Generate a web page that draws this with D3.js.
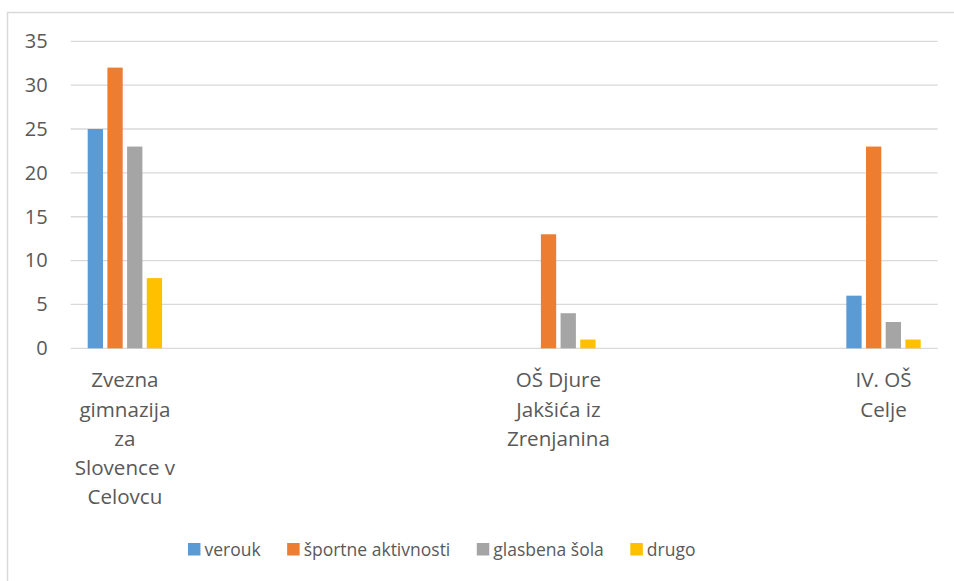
<!DOCTYPE html>
<html>
<head>
<meta charset="utf-8">
<script src="https://cdn.jsdelivr.net/npm/d3@7"></script>
<style>
  body { margin: 0; background: #fff; }
  text { font-family: "Open Sans", sans-serif; fill: #595959; }
</style>
</head>
<body>
<script>
// 8 category slots, only three of them filled (the empty ones keep the spacing of the original)
var categories = [
  ["Zvezna", "gimnazija", "za", "Slovence v", "Celovcu"],
  [], [], [],
  ["OŠ Djure", "Jakšića iz", "Zrenjanina"],
  [], [],
  ["IV. OŠ", "Celje"]
];
var seriesNames = ["verouk", "športne aktivnosti", "glasbena šola", "drugo"];
var seriesColors = ["#5B9BD5", "#ED7D31", "#A5A5A5", "#FFC000"];

var verouk   = [25, null, null, null, null, null, null, 6];
var sportne  = [32, null, null, null, 13, null, null, 23];
var glasbena = [23, null, null, null, 4, null, null, 3];
var drugo    = [8, null, null, null, 1, null, null, 1];

var yTicks = [0, 5, 10, 15, 20, 25, 30, 35];

var seriesValues = [verouk, sportne, glasbena, drugo];

var width = 954, height = 581;
var plot = {left: 70.7, right: 937.7, top: 41.3, bottom: 348.3};

var svg = d3.select("body").append("svg")
    .attr("width", width)
    .attr("height", height);

// chart frame (runs off the right and bottom edges in the original)
svg.append("rect")
    .attr("x", 7.5).attr("y", 12.5)
    .attr("width", 1200).attr("height", 1200)
    .attr("fill", "none")
    .attr("stroke", "#D9D9D9")
    .attr("stroke-width", 1.5);

var x0 = d3.scaleBand()
    .domain(d3.range(categories.length))
    .range([plot.left, plot.right]);

var groupPad = 17;
var x1 = d3.scaleBand()
    .domain(d3.range(seriesNames.length))
    .range([groupPad, x0.bandwidth() - groupPad])
    .paddingInner(0.223);

var y = d3.scaleLinear()
    .domain([0, 35])
    .range([plot.bottom, plot.top]);

// gridlines
svg.append("g").selectAll("line")
  .data(yTicks)
  .enter().append("line")
    .attr("x1", plot.left).attr("x2", plot.right)
    .attr("y1", function(d) { return y(d); })
    .attr("y2", function(d) { return y(d); })
    .style("stroke", "#D9D9D9")
    .style("stroke-width", 1.3);

// y axis labels
var yAxis = d3.axisLeft(y).tickValues(yTicks).tickSize(0).tickPadding(23);
var yg = svg.append("g")
    .attr("transform", "translate(" + plot.left + ",0)")
    .call(yAxis);
yg.select(".domain").remove();
yg.selectAll("text")
    .style("font-size", "20px")
    .attr("fill", "#595959");

// bars
var groups = svg.append("g").selectAll("g")
  .data(d3.range(categories.length))
  .enter().append("g")
    .attr("transform", function(i) { return "translate(" + x0(i) + ",0)"; });

groups.selectAll("rect")
  .data(function(i) {
    return seriesValues.map(function(s, k) { return {k: k, v: s[i]}; })
      .filter(function(d) { return d.v != null; });
  })
  .enter().append("rect")
    .attr("x", function(d) { return x1(d.k); })
    .attr("width", x1.bandwidth())
    .attr("y", function(d) { return y(d.v); })
    .attr("height", function(d) { return y(0) - y(d.v); })
    .style("fill", function(d) { return seriesColors[d.k]; });

// category labels, wrapped
var lineStep = 29.2;
var labels = svg.append("g").selectAll("text")
  .data(d3.range(categories.length))
  .enter().append("text")
    .attr("text-anchor", "middle")
    .attr("x", function(i) { return x0(i) + x0.bandwidth() / 2; })
    .attr("y", 387.3)
    .style("font-size", "20.6px");

labels.selectAll("tspan")
  .data(function(i) { return categories[i]; })
  .enter().append("tspan")
    .attr("x", function() { return this.parentNode.getAttribute("x"); })
    .attr("dy", function(d, j) { return j == 0 ? 0 : lineStep; })
    .text(function(d) { return d; });

// legend
var legend = svg.append("g");
var items = legend.selectAll("g")
  .data(seriesNames)
  .enter().append("g");

items.append("rect")
    .attr("width", 12.5).attr("height", 12.5)
    .attr("y", 543)
    .style("fill", function(d, k) { return seriesColors[k]; });

items.append("text")
    .attr("x", 16.5)
    .attr("y", 556)
    .style("font-size", "17.5px")
    .text(function(d) { return d; });

var itemGap = 26.5;
var widths = [];
items.each(function() {
  widths.push(16.5 + d3.select(this).select("text").node().getComputedTextLength());
});
var total = d3.sum(widths) + itemGap * (widths.length - 1);
var cx = 441.7;
var pos = cx - total / 2;
items.attr("transform", function(d, k) {
  var t = "translate(" + pos + ",0)";
  pos += widths[k] + itemGap;
  return t;
});
</script>
</body>
</html>
